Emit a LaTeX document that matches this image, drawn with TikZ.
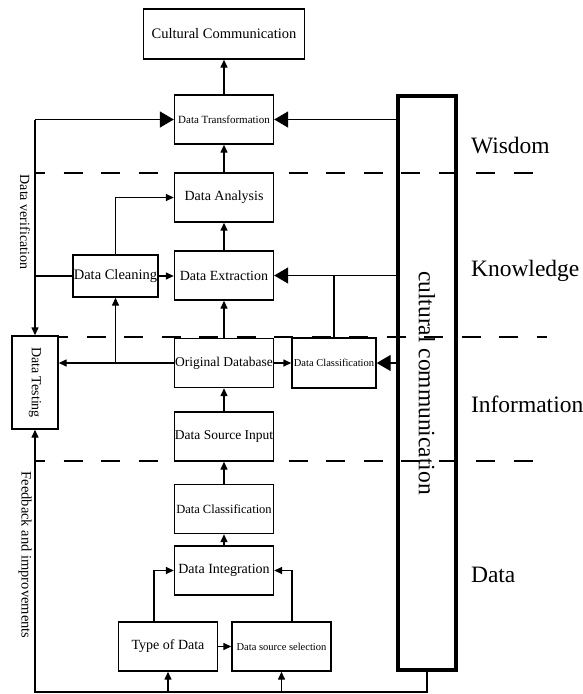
\documentclass[tikz,border=0pt]{standalone}
\usepackage{fontspec}
\setmainfont{Liberation Serif}
\usetikzlibrary{arrows.meta,positioning}

\begin{document}
\begin{tikzpicture}[x=1pt, y=-1pt, line width=1.4pt,
        box/.style={draw, minimum width=99pt, minimum height=49pt, inner sep=0pt, font=\fontsize{14}{16}\selectfont},
        arr/.style={-{Triangle[length=8pt,width=7pt]}},
        bigarr/.style={-{Triangle[length=14pt,width=16pt]}},
        layer/.style={line width=1.3pt, dash pattern=on 19pt off 18.5pt, dash phase=9pt},
        lab/.style={anchor=base west, font=\fontsize{23.5}{26}\selectfont},
        side/.style={rotate=-90, font=\fontsize{14}{16}\selectfont}]
        \useasboundingbox (0,0) rectangle (583,694);

        % Layer separators
        \draw[layer] (35,173) -- (547,173);
        \draw[layer] (58,337) -- (547,337);
        \draw[layer] (35,461) -- (547,461);

        % Layer names
        \node[lab] (wis) at (467,153) {Wisdom};
        \node[lab] (kno) at (467,276) {Knowledge};
        \node[lab] (inf) at (467,412) {Information};
        \node[lab] (dat) at (467,582) {Data};

        % Main column
        \node[box, minimum width=161pt, minimum height=50pt, font=\fontsize{14.5}{16}\selectfont] (cc) at (224,34) {Cultural Communication};
        \node[box, font=\fontsize{11}{13}\selectfont] (trans) at (224,119.5) {Data Transformation};
        \node[box] (ana) at (224,197.5) {Data Analysis};
        \node[box] (ext) at (224,275.5) {Data Extraction};
        \node[box, font=\fontsize{13.5}{15}\selectfont] (odb) at (224,363) {Original Database};
        \node[box, font=\fontsize{13.5}{15}\selectfont] (input) at (224,436.5) {Data Source Input};
        \node[box, font=\fontsize{12.5}{14}\selectfont] (clsb) at (224,509) {Data Classification};
        \node[box] (integ) at (224,570.5) {Data Integration};
        \node[box] (type) at (168,646.5) {Type of Data};
        \node[box, font=\fontsize{10.5}{12}\selectfont] (sel) at (281.5,646.5) {Data source selection};

        % Side boxes
        \node[box, minimum width=85pt, minimum height=42pt, font=\fontsize{14.5}{16}\selectfont] (clean) at (115.5,276) {Data Cleaning};
        \node[box, minimum width=46pt, minimum height=93pt] (test) at (35,382.5) {\rotatebox{-90}{Data Testing}};
        \node[box, minimum width=84pt, minimum height=50pt, font=\fontsize{10.5}{12}\selectfont] (clsr) at (334,363) {Data Classification};

        % Cultural communication bar
        \node[draw, line width=4pt, minimum width=58pt, minimum height=574pt, inner sep=0pt, font=\fontsize{23.5}{26}\selectfont] (cul) at (427,383) {\rotatebox{-90}{cultural communication}};

        % Side texts
        \node[side] (ver) at (25,222) {Data verification};
        \node[side, font=\fontsize{14.5}{16}\selectfont] (fbk) at (25,555) {Feedback and improvements};

        % Upward flow
        \draw[arr] (trans.north) -- (cc.south);
        \draw[arr] (ana.north) -- (trans.south);
        \draw[arr] (ext.north) -- (ana.south);
        \draw[arr] (odb.north) -- (ext.south);
        \draw[arr] (input.north) -- (odb.south);
        \draw[arr] (clsb.north) -- (input.south);
        \draw[arr] (integ.north) -- (clsb.south);

        % Data sources
        \draw[arr] ([xshift=-14pt]type.north) |- (integ.west);
        \draw[arr] ([xshift=10.5pt]sel.north) |- (integ.east);
        \draw[arr] (type.east) -- (sel.west);

        % Feedback loop along the bottom
        \coordinate (base) at (427,692);
        \draw[arr] (cul.south) -- (base) -| (test.south);
        \draw[arr] (base -| type.south) -- (type.south);
        \draw[arr] (base -| sel.south) -- (sel.south);

        % Verification line on the left
        \coordinate (vtop) at (35,119.5);
        \draw[bigarr] (vtop) -- (trans.west);
        \draw[arr] (vtop) -- (test.north);
        \draw (clean.west) -- (clean.west -| vtop);
        \draw[arr] (clean.north) |- (ana.west);
        \draw[arr] (clean.east) -- (clean.east -| ext.west);
        \draw[arr] (odb.west) -- (odb.west -| test.east);
        \draw[arr] (odb.west -| clean.south) -- (clean.south);
        \draw[arr] (odb.east) -- (clsr.west);

        % Inputs from the cultural communication bar
        \draw[bigarr] (cul.west |- trans.east) -- (trans.east);
        \draw[bigarr] (cul.west |- ext.east) -- (ext.east);
        \draw (ext.east -| clsr.north) -- (clsr.north);
        \draw[bigarr] (cul.west |- clsr.east) -- (clsr.east);
    \end{tikzpicture}
\end{document}
